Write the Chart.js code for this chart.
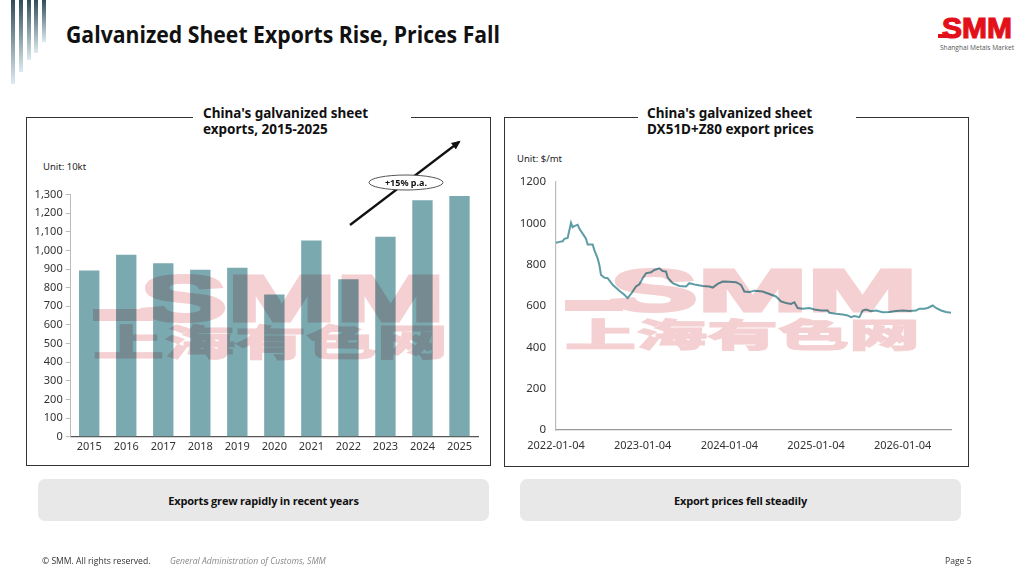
<!DOCTYPE html>
<html>
<head>
<meta charset="utf-8">
<script src="https://cdn.jsdelivr.net/npm/chart.js@4"></script>
<style>
  html, body { margin: 0; padding: 0; background: #fff; }
  body { width: 1024px; height: 576px; position: relative; overflow: hidden;
         font-family: "Noto Sans", sans-serif; color: #111; }
  .abs { position: absolute; }
  .bar { position: absolute; top: 0; width: 4px;
         background: linear-gradient(#2f4d58, #dcebef); }
  .title { left: 66px; top: 18px; font-family: "Open Sans", sans-serif;
           font-weight: bold; font-size: 23px; transform: scaleX(0.922); transform-origin: 0 0; }
  .panel { border: 1.3px solid #333; box-sizing: border-box; }
  .ptitle { background: #fff; font-weight: bold; font-size: 13.5px; line-height: 15.5px;
            padding: 0 8px; box-sizing: border-box; }
  .unit { font-size: 9.5px; color: #222; }
  .box { background: #e8e8e8; border-radius: 7px; font-family: "Open Sans", sans-serif;
         font-weight: bold; font-size: 11px; letter-spacing: -0.2px;
         display: flex; align-items: center; justify-content: center; }
  .foot { font-family: "Open Sans", sans-serif; font-size: 8.6px; color: #333; top: 555px; }
  canvas { display: block; }
</style>
</head>
<body>
<!-- header decoration -->
<div class="bar" style="left:11px;height:84px"></div>
<div class="bar" style="left:19px;height:72px"></div>
<div class="bar" style="left:27px;height:60px"></div>
<div class="bar" style="left:34px;height:53px"></div>
<div class="bar" style="left:42px;height:42px"></div>
<div class="abs title">Galvanized Sheet Exports Rise, Prices Fall</div>

<!-- logo -->
<svg class="abs" style="left:930px;top:8px" width="94" height="48">
  <rect x="8" y="26" width="14" height="4" fill="#e3101a"/>
  <text x="47" y="30" text-anchor="middle" font-family="Liberation Sans" font-weight="bold"
        font-size="29" fill="#e3101a" stroke="#e3101a" stroke-width="1.2"
        textLength="70" lengthAdjust="spacingAndGlyphs">SMM</text>
  <text x="47" y="42" text-anchor="middle" font-family="Open Sans" font-size="7"
        fill="#555" textLength="74" lengthAdjust="spacingAndGlyphs">Shanghai Metals Market</text>
</svg>

<!-- panels -->
<div class="abs panel" style="left:26px;top:117px;width:465px;height:349px"></div>
<div class="abs panel" style="left:504px;top:117px;width:465px;height:350px"></div>
<div class="abs ptitle" style="left:193px;top:106px;width:218px;padding-left:10px">China's galvanized sheet<br>exports, 2015-2025</div>
<div class="abs ptitle" style="left:638px;top:106px;width:218px;padding-left:9px">China's galvanized sheet<br>DX51D+Z80 export prices</div>
<div class="abs unit" style="left:43px;top:160px">Unit: 10kt</div>
<div class="abs unit" style="left:517px;top:152px">Unit: $/mt</div>

<div class="abs" style="left:26px;top:185px;width:464px;height:275px"><canvas id="bars"></canvas></div>
<div class="abs" style="left:504px;top:165px;width:464px;height:295px"><canvas id="prices"></canvas></div>

<!-- growth annotation -->
<svg class="abs" style="left:0;top:0" width="1024" height="576">
  <defs>
    <marker id="ah" markerUnits="userSpaceOnUse" markerWidth="10" markerHeight="10" refX="7" refY="5" orient="auto">
      <path d="M0,1 L9,5 L0,9 z" fill="#111"/>
    </marker>
  </defs>
  <line x1="350" y1="225" x2="459" y2="142" stroke="#111" stroke-width="2.2" marker-end="url(#ah)"/>
  <ellipse cx="406" cy="182.5" rx="37" ry="7.5" fill="#fff" stroke="#555" stroke-width="1"/>
  <text x="406" y="185.8" text-anchor="middle" font-family="Noto Sans" font-weight="bold" font-size="9" fill="#111">+15% p.a.</text>
</svg>

<!-- watermark -->
<svg class="abs" style="left:0;top:0;mix-blend-mode:multiply" width="1024" height="576">
  <g fill="#f4d0d2" stroke="#f4d0d2" stroke-width="3" font-weight="900">
    <rect x="93" y="309" width="60" height="12" stroke="none"/>
    <text x="140" y="321" font-family="Liberation Sans" font-size="64" textLength="305" lengthAdjust="spacingAndGlyphs">SMM</text>
    <text x="93" y="356" font-family="Noto Sans CJK SC" font-size="36" stroke-width="1" textLength="355" lengthAdjust="spacingAndGlyphs">上海有色网</text>
    <rect x="565" y="300" width="58" height="11" stroke="none"/>
    <text x="610" y="311" font-family="Liberation Sans" font-size="60" textLength="307" lengthAdjust="spacingAndGlyphs">SMM</text>
    <text x="565" y="347" font-family="Noto Sans CJK SC" font-size="33" stroke-width="1" textLength="355" lengthAdjust="spacingAndGlyphs">上海有色网</text>
  </g>
</svg>

<div class="abs box" style="left:38px;top:479px;width:451px;height:42px">Exports grew rapidly in recent years</div>
<div class="abs box" style="left:520px;top:479px;width:441px;height:42px">Export prices fell steadily</div>

<div class="abs foot" style="left:42px">© SMM. All rights reserved.</div>
<div class="abs foot" style="left:170px;font-style:italic;color:#888">General Administration of Customs, SMM</div>
<div class="abs foot" style="left:945px">Page 5</div>

<script>
// exports, 10kt
const YEARS = ["2015", "2016", "2017", "2018", "2019", "2020", "2021", "2022", "2023", "2024", "2025"];
const EXPORTS = [893, 977, 932, 896, 907, 764, 1054, 845, 1073, 1270, 1293];

// DX51D+Z80 export price, $/mt (x = weeks since 2022-01-04)
const PRICE_WEEK = [0, 2, 4, 5, 7, 9, 10, 11, 13, 14, 16, 18, 19, 22, 23, 25, 26, 27, 29, 31, 34, 38, 41, 43,
  45, 48, 50, 52, 54, 57, 59, 62, 64, 66, 67, 70, 74, 78, 80, 84, 88, 92, 94, 97, 100, 104, 108, 111, 113,
  116, 119, 124, 128, 132, 135, 138, 141, 143, 145, 148, 152, 155, 159, 163, 164, 168, 172, 175, 177, 179,
  182, 184, 186, 189, 192, 196, 200, 204, 208, 212, 216, 218, 221, 223, 226, 228, 231, 234, 237];
const PRICE_VALUE = [905, 910, 913, 925, 929, 1002, 981, 986, 993, 974, 950, 925, 897, 897, 870, 830, 798, 750,
  737, 734, 702, 674, 654, 638, 658, 694, 705, 734, 758, 763, 774, 782, 769, 766, 737, 710, 697, 694, 710, 702,
  697, 694, 689, 707, 718, 717, 715, 702, 670, 667, 674, 670, 658, 646, 622, 614, 610, 618, 590, 587, 590, 583,
  578, 578, 567, 562, 559, 554, 546, 551, 546, 578, 583, 575, 578, 570, 571, 575, 578, 575, 578, 587, 586, 590,
  602, 590, 578, 571, 567];
const DATE_TICKS = ["2022-01-04", "2023-01-04", "2024-01-04", "2025-01-04", "2026-01-04"];
const DATE_TICK_WEEK = [0, 52, 104, 156, 208];

const FONT = { family: "Noto Sans, sans-serif", size: 11 };
const TEXT = "#333";

new Chart(document.getElementById("bars"), {
  type: "bar",
  data: {
    labels: YEARS,
    datasets: [{
      data: EXPORTS,
      backgroundColor: "#7aa9b0",
      borderWidth: 0,
      categoryPercentage: 1,
      barPercentage: 0.55,
    }],
  },
  options: {
    responsive: true,
    maintainAspectRatio: false,
    animation: false,
    layout: { padding: { left: 0, right: 12, top: 9, bottom: 0 } },
    plugins: { legend: { display: false }, tooltip: { enabled: false } },
    scales: {
      x: {
        grid: { display: false, drawTicks: false },
        border: { color: "#555", width: 1.3 },
        ticks: { color: TEXT, font: FONT, padding: 4, maxRotation: 0 },
        afterFit: (s) => { s.height = 23.3; },
      },
      y: {
        min: 0,
        max: 1300,
        grid: { drawOnChartArea: false, drawTicks: true, tickLength: 5, color: "#bbb" },
        border: { color: "#bbb" },
        ticks: {
          stepSize: 100,
          color: TEXT,
          font: FONT,
          padding: 3,
          callback: (v) => v.toLocaleString("en-US"),
        },
        afterFit: (s) => { s.width = 44.7; },
      },
    },
  },
});

new Chart(document.getElementById("prices"), {
  type: "line",
  data: {
    datasets: [{
      data: PRICE_WEEK.map((w, i) => ({ x: w, y: PRICE_VALUE[i] })),
      borderColor: "#5e9da6",
      borderWidth: 2,
      pointRadius: 0,
      tension: 0,
    }],
  },
  options: {
    responsive: true,
    maintainAspectRatio: false,
    animation: false,
    layout: { padding: { left: 0, right: 16.3, top: 14.3, bottom: 0 } },
    plugins: { legend: { display: false }, tooltip: { enabled: false } },
    scales: {
      x: {
        type: "linear",
        min: 0,
        max: 237.4,
        grid: { display: false, drawTicks: false },
        border: { color: "#999", width: 1.2 },
        afterBuildTicks: (s) => { s.ticks = DATE_TICK_WEEK.map((v) => ({ value: v })); },
        ticks: {
          color: TEXT,
          font: FONT,
          padding: 9.5,
          maxRotation: 0,
          autoSkip: false,
          callback: (v) => DATE_TICKS[DATE_TICK_WEEK.indexOf(v)] || "",
        },
        afterFit: (s) => { s.height = 30; },
      },
      y: {
        min: 0,
        max: 1200,
        grid: { display: false, drawTicks: false },
        border: { color: "#bbb", width: 1.2 },
        ticks: {
          stepSize: 200,
          color: TEXT,
          font: { family: "Noto Sans, sans-serif", size: 11.5 },
          padding: 10,
          callback: (v) => String(v),
        },
        afterFit: (s) => { s.width = 52; },
      },
    },
  },
});
</script>
</body>
</html>
